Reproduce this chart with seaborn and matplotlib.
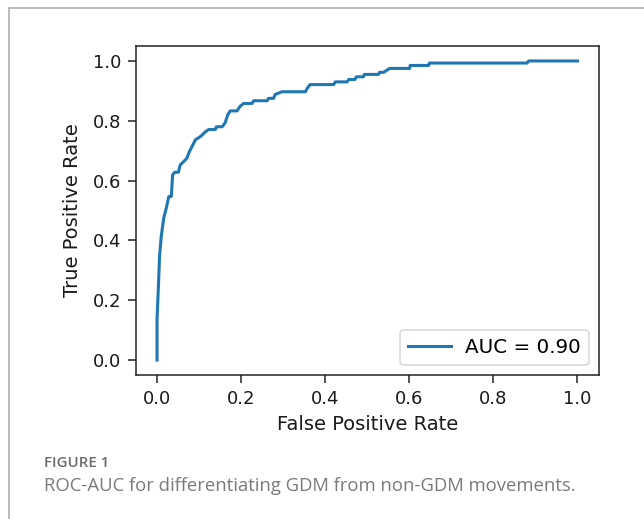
import seaborn as sns
import matplotlib
matplotlib.use("Agg")
import matplotlib.pyplot as plt
from matplotlib.lines import Line2D
import pandas as pd

# ROC curve corner points
fpr = [0.000, 0.000, 0.004, 0.006, 0.010, 0.016, 0.022, 0.028, 0.034, 0.037,
       0.042, 0.051, 0.055, 0.063, 0.071, 0.077, 0.083, 0.091, 0.103, 0.115,
       0.123, 0.139, 0.141, 0.155, 0.162, 0.168, 0.174, 0.190, 0.198, 0.206,
       0.226, 0.230, 0.262, 0.265, 0.277, 0.281, 0.297, 0.353, 0.357, 0.364,
       0.420, 0.424, 0.452, 0.456, 0.471, 0.474, 0.491, 0.493, 0.527, 0.529,
       0.539, 0.553, 0.601, 0.602, 0.646, 0.648, 0.880, 0.884, 1.000]
tpr = [0.000, 0.136, 0.270, 0.347, 0.413, 0.475, 0.508, 0.547, 0.547, 0.619,
       0.628, 0.628, 0.652, 0.663, 0.675, 0.697, 0.713, 0.736, 0.747, 0.763,
       0.771, 0.771, 0.780, 0.780, 0.793, 0.819, 0.833, 0.833, 0.849, 0.858,
       0.858, 0.867, 0.867, 0.875, 0.875, 0.888, 0.897, 0.897, 0.908, 0.921,
       0.921, 0.930, 0.930, 0.938, 0.938, 0.947, 0.947, 0.955, 0.955, 0.962,
       0.962, 0.975, 0.975, 0.985, 0.985, 0.993, 0.993, 1.000, 1.000]
auc_label = "AUC = 0.90"
x_ticks = [0.0, 0.2, 0.4, 0.6, 0.8, 1.0]
y_ticks = [0.0, 0.2, 0.4, 0.6, 0.8, 1.0]
caption_head = "FIGURE 1"
caption_text = "ROC-AUC for differentiating GDM from non-GDM movements."

df = pd.DataFrame({"fpr": fpr, "tpr": tpr})

plt.rcParams["font.family"] = ["DejaVu Sans"]

W, H = 644, 519
fig = plt.figure(figsize=(W / 100, H / 100), dpi=100)
ax = fig.add_axes([136 / W, 1 - 375 / H, 462.5 / W, 329 / H])

sns.lineplot(
    data=df,
    x="fpr",
    y="tpr",
    ax=ax,
    sort=False,
    estimator=None,
    color="#1f77b4",
    linewidth=2.2,
    label=auc_label,
)

ax.set_xlim(-0.05, 1.05)
ax.set_ylim(-0.05, 1.05)
ax.set_xticks(x_ticks)
ax.set_yticks(y_ticks)
ax.set_xticklabels([f"{t:.1f}" for t in x_ticks])
ax.set_yticklabels([f"{t:.1f}" for t in y_ticks])
ax.tick_params(labelsize=13, length=5.5, width=1.1, color="#222222",
               labelcolor="#1a1a1a", pad=5)
for sp in ax.spines.values():
    sp.set_linewidth(1.1)
    sp.set_color("#222222")
ax.set_xlabel("False Positive Rate", fontsize=14, color="#1a1a1a", labelpad=5)
ax.set_ylabel("True Positive Rate", fontsize=14, color="#1a1a1a", labelpad=8)

leg = ax.legend(loc="lower right", fontsize=14.3, handlelength=2.15,
                borderpad=0.4, handletextpad=0.7, borderaxespad=0.5,
                fancybox=True, framealpha=0.8)
leg.get_frame().set_edgecolor("#cccccc")
leg.get_frame().set_linewidth(1.1)

# article frame lines (top and left)
frame_col = "#b5b5b5"
fig.add_artist(Line2D([9 / W, 1.0], [1 - 7.5 / H, 1 - 7.5 / H],
                      color=frame_col, linewidth=1.3))
fig.add_artist(Line2D([9 / W, 9 / W], [0.0, 1 - 7.5 / H],
                      color=frame_col, linewidth=1.3))

fig.text(44 / W, 1 - 463 / H, caption_head, fontsize=10.8,
         family=["Open Sans", "DejaVu Sans"], fontweight="semibold",
         color="#6b6b6b", va="center", ha="left")
fig.text(44 / W, 1 - 486 / H, caption_text, fontsize=13.3,
         family=["Open Sans", "DejaVu Sans"], color="#7a7a7a",
         va="center", ha="left")

fig.savefig("out.png", dpi=100)
